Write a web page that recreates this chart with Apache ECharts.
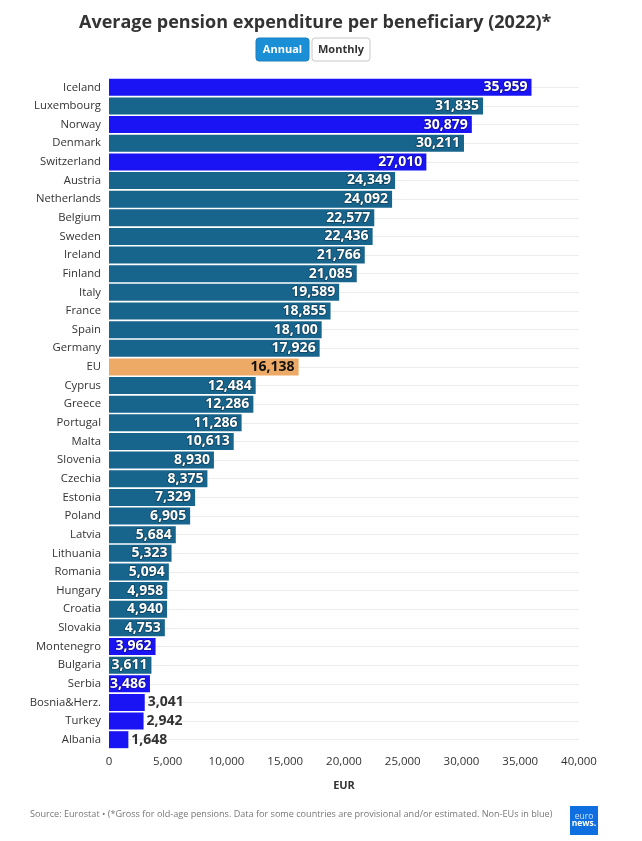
<!DOCTYPE html>
<html>
<head>
<meta charset="utf-8">
<style>
  html, body { margin: 0; padding: 0; background: #fff; }
  #chart { width: 642px; height: 841px; }
</style>
<script src="https://cdn.jsdelivr.net/npm/echarts@6/dist/echarts.min.js"></script>
</head>
<body>
<div id="chart"></div>
<script>
const countries = ['Iceland', 'Luxembourg', 'Norway', 'Denmark', 'Switzerland', 'Austria', 'Netherlands', 'Belgium', 'Sweden', 'Ireland', 'Finland', 'Italy', 'France', 'Spain', 'Germany', 'EU', 'Cyprus', 'Greece', 'Portugal', 'Malta', 'Slovenia', 'Czechia', 'Estonia', 'Poland', 'Latvia', 'Lithuania', 'Romania', 'Hungary', 'Croatia', 'Slovakia', 'Montenegro', 'Bulgaria', 'Serbia', 'Bosnia&Herz.', 'Turkey', 'Albania'];
const values = [35959, 31835, 30879, 30211, 27010, 24349, 24092, 22577, 22436, 21766, 21085, 19589, 18855, 18100, 17926, 16138, 12484, 12286, 11286, 10613, 8930, 8375, 7329, 6905, 5684, 5323, 5094, 4958, 4940, 4753, 3962, 3611, 3486, 3041, 2942, 1648];
const nonEu = ['Iceland', 'Norway', 'Switzerland', 'Montenegro', 'Serbia', 'Bosnia&Herz.', 'Turkey', 'Albania'];
const labelsOutside = ['Bosnia&Herz.', 'Turkey', 'Albania'];

const font = '"Open Sans", sans-serif';
const BLUE = '#1a14f5', TEAL = '#17648d', ORANGE = '#edaa66', DARK = '#333333';

function barColor(name) {
  if (name === 'EU') return ORANGE;
  return nonEu.includes(name) ? BLUE : TEAL;
}

function barLabel(name) {
  // small bars carry the number outside, EU has dark text on orange
  if (labelsOutside.includes(name)) return { position: 'right', distance: 3, color: DARK };
  if (name === 'EU') return { position: 'insideRight', distance: 4, color: '#111111' };
  return { position: 'insideRight', distance: 4, color: '#ffffff', textBorderColor: 'rgba(0,0,0,0.35)', textBorderWidth: 1.5 };
}

const chart = echarts.init(document.getElementById('chart'), null, { renderer: 'canvas' });

chart.setOption({
  animation: false,
  backgroundColor: '#ffffff',
  title: {
    text: 'Average pension expenditure per beneficiary (2022)*',
    left: 74,
    top: 9,
    textStyle: { fontFamily: font, fontSize: 18, fontWeight: 'bold', color: DARK }
  },
  grid: { left: 109, right: 63, top: 78, bottom: 92, containLabel: false },
  xAxis: {
    type: 'value',
    min: 0,
    max: 40000,
    interval: 5000,
    name: 'EUR',
    nameLocation: 'middle',
    nameGap: 31,
    nameTextStyle: { fontFamily: font, fontSize: 11, fontWeight: 'bold', color: DARK },
    axisLine: { show: false },
    axisTick: { show: false },
    splitLine: { show: false },
    axisLabel: {
      fontFamily: font, fontSize: 11.5, color: '#333333', margin: 7,
      formatter: v => v.toLocaleString('en-US')
    }
  },
  yAxis: {
    type: 'category',
    inverse: true,
    data: countries,
    axisLine: { show: false },
    axisTick: { show: false },
    splitLine: { show: true, alignWithLabel: true, lineStyle: { color: '#ececec', width: 1 } },
    axisLabel: { fontFamily: font, fontSize: 11.3, color: '#333333', margin: 8, interval: 0, padding: [2, 0, 0, 0] }
  },
  series: [{
    type: 'bar',
    barWidth: 17,
    data: countries.map((name, i) => ({
      value: values[i],
      itemStyle: { color: barColor(name) },
      label: barLabel(name)
    })),
    label: {
      show: true,
      fontFamily: font,
      fontSize: 14,
      fontWeight: 'bold',
      padding: [2, 0, 0, 0],
      formatter: p => p.value.toLocaleString('en-US')
    }
  }],
  graphic: [
    { type: 'rect', shape: { x: 256, y: 38, width: 53, height: 23, r: 3 }, style: { fill: '#1b8fd6', stroke: '#1a80c0', lineWidth: 1 } },
    { type: 'text', x: 282.5, y: 49.5, style: { text: 'Annual', fontFamily: font, fontSize: 11, fontWeight: 'bold', fill: '#ffffff', align: 'center', verticalAlign: 'middle' } },
    { type: 'rect', shape: { x: 312, y: 38, width: 58, height: 23, r: 3 }, style: { fill: '#ffffff', stroke: '#c8c8c8', lineWidth: 1 } },
    { type: 'text', x: 341, y: 49.5, style: { text: 'Monthly', fontFamily: font, fontSize: 11, fontWeight: 'bold', fill: DARK, align: 'center', verticalAlign: 'middle' } },
    { type: 'text', x: 30, y: 814, style: { text: 'Source: Eurostat • (*Gross for old-age pensions. Data for some countries are provisional and/or estimated. Non-EUs in blue)', fontFamily: font, fontSize: 9.1, fill: '#777777', verticalAlign: 'middle' } },
    { type: 'rect', shape: { x: 570, y: 806, width: 28, height: 29 }, style: { fill: '#0f6fe0' } },
    { type: 'text', x: 584, y: 817, style: { text: 'euro', fontFamily: font, fontSize: 8.5, fill: '#cfe3fb', align: 'center', verticalAlign: 'middle' } },
    { type: 'text', x: 584, y: 824, style: { text: 'news.', fontFamily: font, fontSize: 8.5, fontWeight: 'bold', fill: '#ffffff', align: 'center', verticalAlign: 'middle' } }
  ]
});
</script>
</body>
</html>
